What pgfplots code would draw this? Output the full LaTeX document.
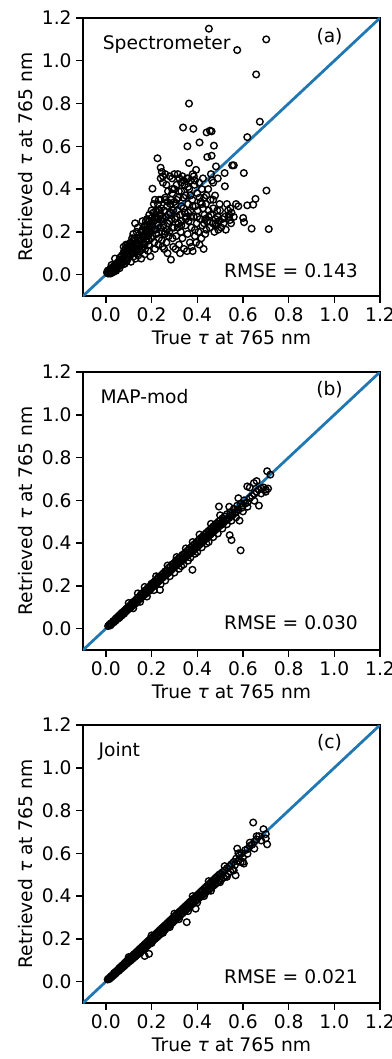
\documentclass[border=0pt]{standalone}
\usepackage{fontspec}
\setmainfont{DejaVu Sans}
\usepackage{pgfplots}
\pgfplotsset{compat=1.18}
\definecolor{mplblue}{RGB}{31,119,180}
\newcommand{\fs}{\fontsize{13.5}{16}\selectfont}
\pgfplotsset{panel/.style={
  width=2.97in, height=2.78in, scale only axis,
  xmin=-0.1, xmax=1.2, ymin=-0.1, ymax=1.2,
  xtick={0,0.2,0.4,0.6,0.8,1.0,1.2}, ytick={0,0.2,0.4,0.6,0.8,1.0,1.2},
  xticklabels={0.0,0.2,0.4,0.6,0.8,1.0,1.2},
  yticklabels={0.0,0.2,0.4,0.6,0.8,1.0,1.2},
  xtick pos=left, ytick pos=left, tick align=outside,
  major tick length=4.7pt,
  tick style={black, line width=1.05pt},
  axis line style={line width=1.05pt},
  ticklabel style={font=\fs},
  label style={font=\fs},
  xlabel={True \textit{τ} at 765 nm},
  ylabel={Retrieved \textit{τ} at 765 nm},
  clip=true,
},
pts/.style={only marks, mark=o, mark size=2.4pt, black, mark options={line width=1.0pt}},
oneone/.style={mplblue, line width=2pt, no marks},
}
\begin{document}
\begin{tikzpicture}
\useasboundingbox (0,0) rectangle (3.92in,-10.59in);
% ---------------- (a)
\begin{axis}[panel, at={(0.83in,-0.18in)}, anchor=north west]
\addplot[pts] table {
x y
0.005 0.010
0.010 0.005
0.012 0.020
0.015 0.012
0.018 0.025
0.020 0.015
0.022 0.030
0.025 0.020
0.028 0.018
0.030 0.035
0.032 0.025
0.035 0.040
0.038 0.030
0.040 0.022
0.042 0.045
0.045 0.035
0.048 0.028
0.050 0.055
0.052 0.040
0.020 0.005
0.030 0.010
0.008 0.018
0.035 0.015
0.045 0.018
0.025 0.045
0.040 0.075
0.055 0.050
0.058 0.065
0.060 0.040
0.062 0.080
0.065 0.055
0.068 0.045
0.070 0.090
0.072 0.070
0.075 0.060
0.078 0.100
0.080 0.085
0.082 0.050
0.085 0.120
0.088 0.075
0.090 0.095
0.092 0.065
0.095 0.140
0.098 0.110
0.100 0.080
0.060 0.030
0.078 0.130
0.088 0.140
0.095 0.125
0.102 0.130
0.105 0.095
0.108 0.150
0.110 0.060
0.112 0.115
0.115 0.100
0.118 0.140
0.120 0.160
0.122 0.085
0.125 0.120
0.128 0.240
0.130 0.135
0.132 0.105
0.135 0.150
0.138 0.170
0.140 0.120
0.142 0.090
0.145 0.185
0.148 0.140
0.150 0.110
0.115 0.170
0.135 0.200
0.105 0.145
0.125 0.170
0.145 0.160
0.130 0.075
0.152 0.160
0.155 0.200
0.158 0.130
0.160 0.250
0.162 0.175
0.165 0.145
0.168 0.220
0.170 0.190
0.172 0.120
0.175 0.210
0.178 0.160
0.180 0.260
0.182 0.230
0.185 0.180
0.188 0.140
0.190 0.280
0.192 0.200
0.195 0.240
0.198 0.170
0.200 0.300
0.155 0.075
0.170 0.095
0.185 0.110
0.195 0.085
0.160 0.210
0.175 0.250
0.190 0.215
0.165 0.185
0.180 0.200
0.200 0.265
0.202 0.220
0.205 0.180
0.208 0.290
0.210 0.250
0.212 0.150
0.215 0.270
0.218 0.210
0.220 0.300
0.222 0.190
0.225 0.240
0.226 0.544
0.228 0.330
0.230 0.260
0.232 0.170
0.235 0.280
0.238 0.220
0.240 0.350
0.242 0.310
0.245 0.200
0.248 0.265
0.250 0.460
0.204 0.402
0.215 0.120
0.230 0.140
0.245 0.160
0.210 0.330
0.222 0.260
0.236 0.300
0.248 0.130
0.240 0.500
0.245 0.480
0.232 0.350
0.215 0.350
0.252 0.230
0.255 0.300
0.258 0.190
0.260 0.350
0.262 0.270
0.265 0.150
0.268 0.320
0.270 0.240
0.272 0.390
0.275 0.280
0.278 0.200
0.280 0.460
0.282 0.330
0.285 0.070
0.288 0.260
0.290 0.380
0.292 0.170
0.295 0.300
0.298 0.220
0.300 0.470
0.255 0.120
0.265 0.420
0.275 0.180
0.285 0.350
0.295 0.130
0.270 0.100
0.280 0.250
0.290 0.450
0.260 0.470
0.300 0.400
0.268 0.210
0.283 0.290
0.302 0.260
0.305 0.330
0.308 0.180
0.310 0.420
0.312 0.300
0.315 0.220
0.318 0.360
0.320 0.140
0.322 0.450
0.325 0.280
0.328 0.200
0.330 0.390
0.332 0.250
0.335 0.460
0.338 0.688
0.340 0.310
0.342 0.120
0.345 0.420
0.348 0.230
0.350 0.370
0.305 0.120
0.315 0.470
0.325 0.100
0.335 0.170
0.345 0.290
0.310 0.350
0.340 0.440
0.330 0.320
0.318 0.240
0.352 0.270
0.355 0.450
0.357 0.600
0.358 0.190
0.360 0.330
0.362 0.250
0.364 0.800
0.364 0.522
0.365 0.400
0.368 0.150
0.370 0.300
0.372 0.440
0.375 0.220
0.378 0.350
0.380 0.110
0.383 0.682
0.385 0.270
0.388 0.420
0.390 0.180
0.392 0.320
0.395 0.490
0.398 0.240
0.400 0.380
0.355 0.110
0.375 0.130
0.395 0.150
0.370 0.370
0.385 0.460
0.360 0.290
0.390 0.210
0.402 0.300
0.405 0.200
0.408 0.430
0.410 0.618
0.412 0.260
0.415 0.340
0.418 0.170
0.420 0.400
0.422 0.230
0.425 0.310
0.428 0.120
0.430 0.360
0.432 0.280
0.435 0.190
0.438 0.330
0.441 0.665
0.444 0.550
0.445 0.250
0.448 0.400
0.450 0.300
0.410 0.140
0.440 0.210
0.425 0.450
0.435 0.260
0.451 1.150
0.456 0.673
0.463 0.670
0.463 0.556
0.455 0.220
0.458 0.350
0.460 0.280
0.465 0.440
0.468 0.240
0.470 0.310
0.473 0.603
0.475 0.200
0.478 0.370
0.480 0.260
0.482 0.506
0.485 0.230
0.488 0.300
0.490 0.450
0.492 0.210
0.495 0.250
0.498 0.330
0.460 0.470
0.470 0.430
0.490 0.270
0.505 0.220
0.510 0.260
0.515 0.240
0.520 0.475
0.521 0.413
0.525 0.210
0.530 0.330
0.535 0.300
0.538 0.270
0.540 0.280
0.543 0.255
0.545 0.310
0.548 0.240
0.550 0.290
0.553 0.511
0.560 0.511
0.575 1.050
0.604 0.475
0.601 0.265
0.605 0.245
0.619 0.324
0.619 0.643
0.638 0.215
0.645 0.327
0.655 0.354
0.658 0.936
0.674 0.715
0.702 1.100
0.703 0.393
0.713 0.213
0.570 0.330
0.580 0.320
0.560 0.270
0.060 0.070
0.070 0.050
0.080 0.110
0.090 0.060
0.100 0.100
0.110 0.130
0.120 0.100
0.130 0.160
0.140 0.140
0.150 0.170
0.160 0.120
0.170 0.230
0.180 0.180
0.190 0.160
0.200 0.230
0.210 0.210
0.220 0.270
0.230 0.230
0.240 0.280
0.250 0.250
0.260 0.200
0.270 0.340
0.280 0.290
0.290 0.220
0.300 0.340
0.310 0.270
0.320 0.390
0.330 0.230
0.340 0.360
0.350 0.260
0.360 0.410
0.370 0.270
0.380 0.320
0.390 0.440
0.400 0.270
0.410 0.360
0.420 0.330
0.430 0.240
0.440 0.370
0.450 0.270
0.470 0.350
0.480 0.240
0.500 0.300
0.520 0.270
0.120 0.190
0.140 0.220
0.170 0.140
0.190 0.250
0.230 0.300
0.260 0.360
0.290 0.400
0.330 0.430
0.360 0.450
0.380 0.470
0.240 0.450
0.250 0.430
};
\addplot[oneone] coordinates {(-0.1,-0.1) (1.2,1.2)};
\node[anchor=west, inner sep=0pt, font=\fs] at (rel axis cs:0.066,0.906) {Spectrometer};
\node[inner sep=0pt, font=\fs] at (rel axis cs:0.83,0.933) {(a)};
\node[inner sep=0pt, font=\fs] at (rel axis cs:0.70,0.09) {RMSE = 0.143};
\end{axis}
% ---------------- (b)
\begin{axis}[panel, at={(0.83in,-3.72in)}, anchor=north west]
\addplot[pts] table {
x y
0.010 0.012
0.015 0.018
0.020 0.015
0.022 0.025
0.025 0.022
0.030 0.028
0.032 0.035
0.035 0.030
0.040 0.042
0.042 0.036
0.045 0.048
0.048 0.044
0.050 0.052
0.052 0.046
0.055 0.058
0.058 0.050
0.060 0.062
0.062 0.055
0.065 0.068
0.068 0.060
0.070 0.074
0.072 0.065
0.075 0.072
0.078 0.080
0.080 0.070
0.083 0.085
0.085 0.078
0.088 0.090
0.090 0.082
0.092 0.095
0.095 0.088
0.098 0.100
0.100 0.092
0.103 0.105
0.105 0.096
0.108 0.110
0.110 0.100
0.113 0.118
0.115 0.106
0.118 0.112
0.120 0.125
0.122 0.110
0.125 0.120
0.128 0.130
0.130 0.118
0.133 0.136
0.135 0.125
0.138 0.130
0.140 0.145
0.142 0.132
0.145 0.138
0.148 0.150
0.150 0.140
0.153 0.160
0.155 0.145
0.158 0.150
0.160 0.165
0.162 0.150
0.165 0.158
0.168 0.175
0.170 0.160
0.173 0.168
0.175 0.180
0.178 0.165
0.180 0.172
0.183 0.190
0.185 0.175
0.188 0.180
0.190 0.195
0.192 0.178
0.195 0.185
0.198 0.205
0.200 0.190
0.200 0.210
0.203 0.195
0.205 0.200
0.208 0.215
0.210 0.198
0.213 0.205
0.215 0.222
0.218 0.208
0.220 0.212
0.223 0.230
0.225 0.215
0.228 0.220
0.230 0.240
0.232 0.222
0.235 0.228
0.237 0.181
0.238 0.245
0.240 0.230
0.243 0.235
0.245 0.252
0.248 0.238
0.250 0.242
0.253 0.260
0.255 0.245
0.258 0.250
0.260 0.268
0.262 0.250
0.265 0.255
0.268 0.272
0.270 0.258
0.273 0.262
0.275 0.285
0.278 0.265
0.280 0.270
0.283 0.290
0.285 0.272
0.288 0.278
0.290 0.300
0.292 0.280
0.295 0.285
0.298 0.305
0.300 0.288
0.303 0.292
0.305 0.315
0.308 0.295
0.310 0.300
0.313 0.322
0.315 0.302
0.318 0.305
0.320 0.330
0.322 0.310
0.325 0.312
0.328 0.335
0.330 0.315
0.333 0.320
0.335 0.345
0.338 0.322
0.340 0.328
0.343 0.350
0.345 0.330
0.348 0.335
0.350 0.358
0.352 0.338
0.355 0.340
0.358 0.365
0.360 0.345
0.363 0.348
0.365 0.372
0.368 0.352
0.370 0.355
0.373 0.380
0.375 0.358
0.378 0.362
0.379 0.275
0.380 0.388
0.383 0.365
0.385 0.370
0.388 0.395
0.390 0.372
0.393 0.378
0.395 0.402
0.398 0.380
0.400 0.385
0.403 0.410
0.405 0.388
0.408 0.392
0.410 0.418
0.413 0.395
0.415 0.400
0.418 0.425
0.420 0.402
0.423 0.408
0.425 0.432
0.428 0.410
0.430 0.415
0.433 0.440
0.435 0.418
0.438 0.422
0.440 0.448
0.443 0.425
0.445 0.430
0.448 0.455
0.450 0.432
0.453 0.438
0.455 0.462
0.458 0.440
0.460 0.445
0.463 0.470
0.465 0.448
0.468 0.452
0.470 0.478
0.473 0.455
0.475 0.460
0.478 0.485
0.480 0.462
0.483 0.468
0.485 0.492
0.488 0.470
0.490 0.475
0.493 0.500
0.495 0.571
0.495 0.478
0.498 0.482
0.500 0.505
0.505 0.485
0.508 0.490
0.510 0.515
0.515 0.495
0.518 0.500
0.520 0.525
0.525 0.505
0.528 0.508
0.530 0.535
0.535 0.515
0.540 0.518
0.542 0.437
0.545 0.545
0.550 0.414
0.550 0.528
0.555 0.532
0.560 0.560
0.565 0.540
0.570 0.545
0.575 0.575
0.580 0.555
0.585 0.505
0.590 0.366
0.590 0.585
0.595 0.565
0.600 0.575
0.605 0.600
0.610 0.585
0.619 0.665
0.620 0.590
0.630 0.610
0.640 0.620
0.648 0.681
0.650 0.630
0.660 0.640
0.670 0.575
0.670 0.650
0.680 0.655
0.690 0.660
0.700 0.650
0.706 0.736
0.710 0.655
0.720 0.720
0.120 0.095
0.150 0.125
0.180 0.150
0.210 0.180
0.240 0.208
0.260 0.225
0.280 0.245
0.300 0.262
0.320 0.280
0.330 0.292
0.340 0.300
0.360 0.318
0.370 0.332
0.390 0.350
0.400 0.358
0.420 0.380
0.440 0.398
0.450 0.405
0.470 0.428
0.490 0.445
0.510 0.468
0.530 0.488
0.550 0.505
0.570 0.520
0.600 0.548
0.620 0.570
0.650 0.598
0.680 0.632
0.700 0.640
0.100 0.120
0.140 0.165
0.170 0.195
0.220 0.245
0.270 0.295
0.310 0.335
0.350 0.375
0.380 0.405
0.410 0.440
0.460 0.490
0.500 0.530
0.540 0.570
0.580 0.610
0.630 0.660
0.660 0.690
};
\addplot[oneone] coordinates {(-0.1,-0.1) (1.2,1.2)};
\node[anchor=west, inner sep=0pt, font=\fs] at (rel axis cs:0.058,0.911) {MAP-mod};
\node[inner sep=0pt, font=\fs] at (rel axis cs:0.83,0.935) {(b)};
\node[inner sep=0pt, font=\fs] at (rel axis cs:0.70,0.10) {RMSE = 0.030};
\end{axis}
% ---------------- (c)
\begin{axis}[panel, at={(0.83in,-7.25in)}, anchor=north west]
\addplot[pts] table {
x y
0.008 0.010
0.012 0.014
0.015 0.012
0.018 0.020
0.020 0.017
0.024 0.026
0.027 0.023
0.030 0.032
0.033 0.029
0.036 0.040
0.038 0.034
0.041 0.044
0.044 0.039
0.047 0.050
0.050 0.046
0.053 0.055
0.056 0.050
0.058 0.062
0.061 0.056
0.064 0.068
0.067 0.061
0.070 0.074
0.072 0.066
0.075 0.078
0.078 0.071
0.081 0.085
0.083 0.076
0.086 0.090
0.089 0.082
0.091 0.095
0.094 0.086
0.097 0.101
0.100 0.092
0.102 0.106
0.105 0.097
0.108 0.112
0.110 0.100
0.113 0.117
0.116 0.106
0.119 0.123
0.121 0.111
0.124 0.128
0.127 0.116
0.130 0.134
0.132 0.121
0.135 0.139
0.138 0.127
0.140 0.144
0.143 0.132
0.146 0.150
0.149 0.137
0.151 0.155
0.154 0.142
0.157 0.161
0.160 0.147
0.162 0.166
0.165 0.152
0.168 0.172
0.170 0.120
0.171 0.158
0.173 0.177
0.176 0.163
0.179 0.183
0.182 0.168
0.184 0.188
0.187 0.174
0.189 0.130
0.190 0.194
0.193 0.179
0.195 0.199
0.198 0.184
0.201 0.205
0.204 0.189
0.206 0.210
0.209 0.195
0.212 0.216
0.215 0.200
0.217 0.221
0.220 0.205
0.223 0.227
0.226 0.210
0.228 0.232
0.231 0.216
0.234 0.238
0.237 0.221
0.239 0.243
0.242 0.227
0.245 0.249
0.248 0.232
0.250 0.254
0.253 0.238
0.256 0.260
0.259 0.243
0.261 0.265
0.264 0.249
0.267 0.271
0.270 0.254
0.272 0.276
0.275 0.260
0.278 0.282
0.281 0.265
0.283 0.287
0.286 0.271
0.289 0.293
0.292 0.276
0.294 0.298
0.297 0.282
0.300 0.304
0.303 0.287
0.305 0.309
0.308 0.293
0.311 0.315
0.314 0.298
0.316 0.320
0.319 0.304
0.322 0.326
0.325 0.309
0.327 0.331
0.330 0.315
0.333 0.337
0.336 0.320
0.338 0.342
0.341 0.326
0.344 0.348
0.347 0.331
0.349 0.353
0.352 0.337
0.354 0.278
0.355 0.359
0.358 0.342
0.360 0.364
0.363 0.348
0.366 0.370
0.369 0.353
0.371 0.375
0.374 0.359
0.377 0.381
0.380 0.364
0.382 0.386
0.385 0.370
0.388 0.392
0.391 0.375
0.393 0.341
0.394 0.397
0.397 0.381
0.400 0.404
0.403 0.386
0.406 0.410
0.409 0.392
0.412 0.416
0.415 0.397
0.418 0.422
0.421 0.403
0.424 0.428
0.427 0.408
0.430 0.434
0.433 0.414
0.436 0.440
0.439 0.419
0.442 0.446
0.445 0.425
0.448 0.452
0.451 0.430
0.454 0.458
0.457 0.436
0.460 0.464
0.463 0.441
0.466 0.470
0.469 0.447
0.472 0.476
0.475 0.452
0.478 0.482
0.481 0.458
0.484 0.488
0.487 0.463
0.490 0.494
0.493 0.469
0.496 0.500
0.499 0.474
0.503 0.505
0.507 0.480
0.511 0.512
0.515 0.486
0.520 0.520
0.525 0.495
0.530 0.530
0.535 0.505
0.540 0.540
0.545 0.515
0.550 0.550
0.555 0.525
0.560 0.560
0.568 0.497
0.565 0.545
0.570 0.575
0.575 0.622
0.580 0.565
0.585 0.590
0.590 0.559
0.595 0.600
0.600 0.580
0.604 0.552
0.610 0.615
0.620 0.620
0.630 0.635
0.640 0.640
0.645 0.744
0.650 0.655
0.660 0.665
0.670 0.680
0.690 0.713
0.700 0.690
0.700 0.670
0.706 0.642
0.150 0.133
0.200 0.180
0.250 0.228
0.280 0.255
0.320 0.292
0.360 0.330
0.400 0.370
0.430 0.400
0.460 0.425
0.500 0.465
0.530 0.490
0.560 0.520
0.600 0.560
0.620 0.598
0.650 0.622
0.680 0.660
0.100 0.115
0.200 0.216
0.300 0.318
0.380 0.400
0.450 0.470
0.520 0.540
0.580 0.600
0.630 0.650
0.660 0.680
};
\addplot[oneone] coordinates {(-0.1,-0.1) (1.2,1.2)};
\node[anchor=west, inner sep=0pt, font=\fs] at (rel axis cs:0.052,0.904) {Joint};
\node[inner sep=0pt, font=\fs] at (rel axis cs:0.83,0.935) {(c)};
\node[inner sep=0pt, font=\fs] at (rel axis cs:0.70,0.094) {RMSE = 0.021};
\end{axis}
\end{tikzpicture}
\end{document}
